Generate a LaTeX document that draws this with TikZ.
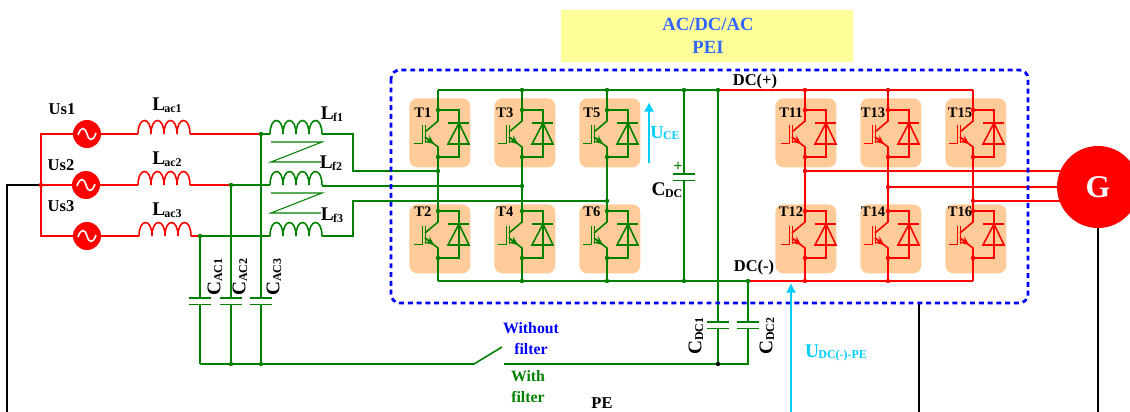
\documentclass[tikz,border=0pt]{standalone}
\usepackage{fontspec}
\setmainfont{Liberation Serif}
\usetikzlibrary{arrows.meta}

\definecolor{wgreen}{HTML}{008000}
\definecolor{wred}{HTML}{FF0000}
\definecolor{modorange}{HTML}{FFCC99}
\definecolor{ucyan}{HTML}{00CCFF}
\definecolor{pblue}{HTML}{3366FF}
\definecolor{pyellow}{HTML}{FFFF99}

\tikzset{
  wire/.style={line width=0.9pt},
  thinwire/.style={line width=0.6pt},
  modbox/.style={fill=modorange,rounded corners=4.5pt,minimum width=1.22cm,minimum height=1.38cm,inner sep=0,anchor=north west},
  txt/.style={inner sep=0,font=\fontsize{9.4}{11}\selectfont\bfseries,align=center},
  tname/.style={inner sep=0,font=\fontsize{8.3}{9}\selectfont\bfseries},
  source/.style={circle,fill=wred,minimum size=0.56cm,inner sep=0},
  measure/.style={ucyan,line width=1.1pt,-{Latex[length=5.5pt,width=6pt]}}
}

\newcommand{\subtxt}[2]{#1\kern-0.4pt\raisebox{-1pt}{\fontsize{6.8}{7}\selectfont #2}}

% name, colour, box left, box top, collector x, collector y
\newcommand{\igbt}[6]{
  \node[modbox] (#1box) at (#3,#4) {};
  \coordinate (#1c) at (#5,#6);
  \coordinate (#1e) at (#5,#6+47);
  \begin{scope}[shift={(#5,#6)},#2,wire]
    \draw (0,0) -- (0,11) -- (-13,22);
    \draw (-13,27) -- (0,37) -- (0,47);
    \draw[-{Stealth[length=5pt,width=4.5pt]}] (-13,27) -- (-4,34);
    \draw (-12.5,15) -- (-12.5,33);
    \draw (-24,33.5) -- (-15.5,33.5) -- (-15.5,15);
    \draw (0,0) -- (21,0) -- (21,47) -- (0,47);
    \draw (10,13) -- (31,13);
    \draw (21,13) -- (10,34) -- (31,34) -- cycle;
    \fill (0,0) circle [radius=2.2];
    \fill (0,47) circle [radius=2.2];
  \end{scope}
}

% name, colour, left x, y
\newcommand{\coil}[4]{
  \coordinate (#1in) at (#3,#4);
  \coordinate (#1out) at (#3+52,#4);
  \foreach \k in {0,1,2,3}
    \draw[#2,wire] ({#3+13*\k},#4) .. controls +(0,-18) and +(0,-18) .. ({#3+13*\k+13},#4);
}

% name, x, top y
\newcommand{\capa}[3]{
  \coordinate (#1a) at (#2,#3);
  \coordinate (#1b) at (#2,#3+6.5);
  \draw[wgreen,wire] (#2-11,#3) -- (#2+11,#3);
  \draw[wgreen,wire] (#2-11,#3+6.5) -- (#2+11,#3+6.5);
}

\begin{document}
\begin{tikzpicture}[x=0.02cm,y=-0.02cm]
  \useasboundingbox (0,0) rectangle (1130,412);

  \node[fill=pyellow,minimum width=5.84cm,minimum height=1.04cm,anchor=north west,inner sep=0] (peibox) at (561,10) {};
  \node[txt,text=pblue,font=\fontsize{10.6}{13}\selectfont\bfseries] (pei) at (708,36) {AC/DC/AC\\PEI};

  % modules
  \foreach \nm/\bx/\by/\cx/\cy/\lx/\ly in {T1/409/98/438/110/423/113,T3/494/98/522/110/505/113,T5/579/98/607/110/592/113,
      T2/409/204/438/211/423/212,T4/494/204/522/211/505/212,T6/579/204/607/211/592/212}{
    \igbt{\nm}{wgreen}{\bx}{\by}{\cx}{\cy}
    \node[tname] (\nm label) at (\lx,\ly) {\nm};
  }
  \foreach \nm/\bx/\by/\cx/\cy/\lx/\ly in {T11/775/98/805/110/791/113,T13/860/98/888/110/873/113,T15/945/98/973/110/960/113,
      T12/775/204/805/211/791/212,T14/860/204/888/211/873/212,T16/945/204/973/211/960/212}{
    \igbt{\nm}{wred}{\bx}{\by}{\cx}{\cy}
    \node[tname] (\nm label) at (\lx,\ly) {\nm};
  }

  % rails
  \foreach \nm/\px in {a/438,b/522,c/607,d/684,e/718,f/805,g/888,h/973}
    \coordinate (top\nm) at (\px,90);
  \foreach \nm/\px in {a/438,b/522,c/607,d/684,e/748,f/805,g/888,h/973}
    \coordinate (bot\nm) at (\px,281);
  \coordinate (pha) at (438,171);
  \coordinate (phb) at (522,186);
  \coordinate (phc) at (607,201);
  \coordinate (phd) at (805,171);
  \coordinate (phe) at (888,187);
  \coordinate (phf) at (973,201);

  \draw[wgreen,wire] (topa) -- (tope);
  \draw[wgreen,wire] (bota) -- (bote);
  \draw[wred,wire] (tope) -- (toph);
  \draw[wred,wire] (bote) -- (both);
  \foreach \tp/\up/\lo/\bt in {a/T1/T2/a,b/T3/T4/b,c/T5/T6/c}
    \draw[wgreen,wire] (top\tp) -- (\up c) (\up e) -- (\lo c) (\lo e) -- (bot\bt);
  \foreach \tp/\up/\lo/\bt in {f/T11/T12/f,g/T13/T14/g,h/T15/T16/h}
    \draw[wred,wire] (top\tp) -- (\up c) (\up e) -- (\lo c) (\lo e) -- (bot\bt);

  % grid side
  \node[source] (src1) at (87,134) {};
  \node[source] (src2) at (86,185) {};
  \node[source] (src3) at (87,236) {};
  \foreach \s in {src1,src2,src3}
    \draw[white,line width=0.9pt,shift={(\s)}] (-9,1) .. controls (-6,-8) and (-2,-7) .. (0,0) .. controls (2,7) and (6,8) .. (9,-1);

  \coil{lac1}{wred}{138}{134}
  \coil{lac2}{wred}{138}{185}
  \coil{lac3}{wred}{139}{236}
  \coil{lf1}{wgreen}{270}{134}
  \coil{lf2}{wgreen}{270}{185}
  \coil{lf3}{wgreen}{270}{236}

  \coordinate (gnda) at (41,134);
  \coordinate (gndb) at (41,185);
  \coordinate (gndc) at (41,236);
  \coordinate (pecorner) at (7,185);
  \coordinate (peend) at (7,412);
  \coordinate (j1) at (261,134);
  \coordinate (j2) at (231,185);
  \coordinate (j3) at (200,236);
  \coordinate (lf1c) at (353,134);
  \coordinate (lf3c) at (353,236);
  \coordinate (lf2c) at (322,186);

  \draw[wred,wire] (src1) -- (gnda) -- (gndc) -- (src3);
  \draw[wred,wire] (gndb) -- (src2);
  \draw[wire] (gndb) -- (pecorner) -- (peend);
  \draw[wred,wire] (src1) -- (lac1in) (lac1out) -- (j1);
  \draw[wred,wire] (src2) -- (lac2in) (lac2out) -- (j2);
  \draw[wred,wire] (src3) -- (lac3in) (lac3out) -- (j3);
  \draw[wgreen,wire] (j1) -- (lf1in);
  \draw[wgreen,wire] (j2) -- (lf2in);
  \draw[wgreen,wire] (j3) -- (lf3in);

  \draw[wgreen,wire] (lf1out) -- (lf1c) |- (pha);
  \draw[wgreen,wire] (lf2c) -- (phb);
  \draw[wgreen,wire] (lf3out) -- (lf3c) |- (phc);

  % coupling marks
  \foreach \ya in {142,193}
    \draw[wgreen,thinwire] (271,\ya) -- (322,\ya) -- (271,\ya+20) -- (321,\ya+20);

  % capacitors
  \capa{cac1}{200}{298}
  \capa{cac2}{231}{298}
  \capa{cac3}{261}{298}
  \capa{cdcf}{718}{322}
  \capa{cdcs}{748}{322}
  \capa{cdc}{684}{174}

  \coordinate (busa) at (200,364);
  \coordinate (busb) at (231,364);
  \coordinate (busc) at (261,364);
  \coordinate (swa) at (474,364);
  \coordinate (swb) at (502,347);
  \coordinate (swc) at (504,364);
  \coordinate (busd) at (718,364);
  \coordinate (buse) at (748,364);

  \draw[wgreen,wire] (j3) -- (cac1a) (cac1b) -- (busa);
  \draw[wgreen,wire] (j2) -- (cac2a) (cac2b) -- (busb);
  \draw[wgreen,wire] (j1) -- (cac3a) (cac3b) -- (busc);
  \draw[wgreen,wire] (busa) -- (swa) -- (swb);
  \draw[wgreen,wire] (swc) -- (buse) -- (cdcsb);
  \draw[wgreen,wire] (cdcsa) -- (bote);
  \draw[wgreen,wire] (tope) -- (cdcfa) (cdcfb) -- (busd);
  \draw[wgreen,wire] (topd) -- (cdca) (cdcb) -- (botd);

  % phase lines
  \draw[wred,wire] (phd) -- (phd -| 1098,0);
  \draw[wred,wire] (phe) -- (phe -| 1098,0);
  \draw[wred,wire] (phf) -- (phf -| 1098,0);

  \coordinate (peb) at (919,303);
  \coordinate (pebend) at (919,412);
  \coordinate (gend) at (1098,412);
  \draw[wire] (peb) -- (pebend);
  \draw[wire] (1098,187) -- (gend);
  \node[circle,fill=wred,minimum size=1.64cm,inner sep=0,text=white,font=\fontsize{18}{20}\selectfont\bfseries] (gen) at (1098,187) {G};

  % junctions
  \foreach \p in {topb,topc,topd,tope,botb,botc,botd,bote,pha,phb,phc,busb,busc,j2,j3,j1}
    \fill[wgreen] (\p) circle [radius=2.2];
  \foreach \p in {topf,topg,botf,botg,phd,phe,phf,gndb}
    \fill[wred] (\p) circle [radius=2.2];
  \fill (busd) circle [radius=2.2];

  \draw[blue,line width=1.6pt,dash pattern=on 2.8pt off 2.2pt,rounded corners=5pt] (391,70) rectangle (1028,303);

  \coordinate (ucea) at (649,163);
  \coordinate (uceb) at (649,102);
  \coordinate (udca) at (791,412);
  \coordinate (udcb) at (791,283);
  \draw[measure] (ucea) -- (uceb);
  \draw[measure] (udca) -- (udcb);

  % labels
  \node[txt] (us1) at (62,109) {Us1};
  \node[txt] (us2) at (61,165) {Us2};
  \node[txt] (us3) at (61,206) {Us3};
  \node[txt] (lac1t) at (167,105) {\fontsize{11}{12}\selectfont\subtxt{L}{ac1}};
  \node[txt] (lac2t) at (167,159) {\fontsize{11}{12}\selectfont\subtxt{L}{ac2}};
  \node[txt] (lac3t) at (167,210) {\fontsize{11}{12}\selectfont\subtxt{L}{ac3}};
  \node[txt] (lf1t) at (332,114) {\fontsize{11}{12}\selectfont\subtxt{L}{f1}};
  \node[txt] (lf2t) at (331,163) {\fontsize{11}{12}\selectfont\subtxt{L}{f2}};
  \node[txt] (lf3t) at (332,215) {\fontsize{11}{12}\selectfont\subtxt{L}{f3}};
  \node[txt,rotate=90] (cac1t) at (215,277) {\fontsize{11}{12}\selectfont\subtxt{C}{AC1}};
  \node[txt,rotate=90] (cac2t) at (240,277) {\fontsize{11}{12}\selectfont\subtxt{C}{AC2}};
  \node[txt,rotate=90] (cac3t) at (274,277) {\fontsize{11}{12}\selectfont\subtxt{C}{AC3}};
  \node[txt,rotate=90] (cdc1t) at (696,336) {\fontsize{11}{12}\selectfont\subtxt{C}{DC1}};
  \node[txt,rotate=90] (cdc2t) at (767,336) {\fontsize{11}{12}\selectfont\subtxt{C}{DC2}};
  \node[txt] (cdct) at (667,190) {\fontsize{11}{12}\selectfont\subtxt{C}{DC}};
  \node[txt,text=wgreen] (plus) at (678,167) {+};
  \node[txt,text=ucyan] (uce) at (665,133) {\fontsize{10.5}{12}\selectfont\subtxt{U}{CE}};
  \node[txt,text=ucyan] (udc) at (836,353) {\fontsize{11}{12}\selectfont\subtxt{U}{DC(-)-PE}};
  \node[txt] (dcp) at (755,82) {DC(+)};
  \node[txt] (dcm) at (754,268) {DC(-)};
  \node[txt,text=blue,font=\fontsize{9}{12}\selectfont\bfseries] (wo) at (531,339) {Without\\filter};
  \node[txt,text=wgreen,font=\fontsize{9}{12}\selectfont\bfseries] (wi) at (528,387) {With\\filter};
  \node[txt] (pe) at (602,403) {PE};
\end{tikzpicture}
\end{document}
